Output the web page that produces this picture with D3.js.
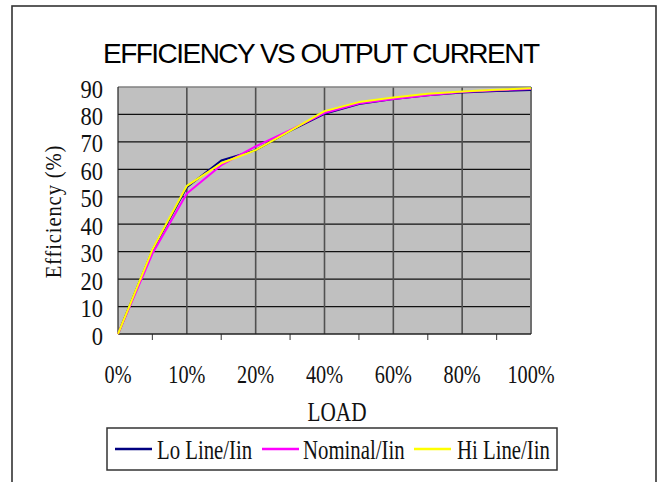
<!DOCTYPE html>
<html>
<head>
<meta charset="utf-8">
<script src="https://cdn.jsdelivr.net/npm/d3@7"></script>
<style>
    body { margin: 0; background: #ffffff; }
    svg { display: block; }
</style>
</head>
<body>
<svg id="chart" width="658" height="482"></svg>
<script>

/*
 *** Chart data
 */
var loadCategories = ["0%", "5%", "10%", "15%", "20%", "30%", "40%", "50%", "60%", "70%", "80%", "90%", "100%"];
var loadLabels = ["0%", "10%", "20%", "40%", "60%", "80%", "100%"];
var efficiencyTicks = [0, 10, 20, 30, 40, 50, 60, 70, 80, 90];

var loLine = [0, 30.5, 53.5, 63.2, 67.0, 74.0, 80.2, 83.8, 85.6, 87.0, 88.0, 88.5, 88.9];
var nominal = [0, 29.3, 51.2, 61.5, 68.4, 74.3, 80.5, 84.0, 85.6, 87.0, 88.2, 88.8, 89.3];
var hiLine = [0, 30.8, 54.0, 62.2, 67.0, 74.0, 81.2, 84.5, 86.2, 87.5, 88.4, 89.0, 89.5];

var seriesNames = ["Lo Line/Iin", "Nominal/Iin", "Hi Line/Iin"];
var seriesColors = ["#000080", "#ff00ff", "#ffff00"];
var seriesValues = [loLine, nominal, hiLine];


var svg = d3.select("#chart");
var plot = {left: 118, right: 531, top: 87, bottom: 334};

var xScale = d3.scalePoint()
    .domain(loadCategories)
    .range([plot.left, plot.right]);

var yScale = d3.scaleLinear()
    .domain([0, 90])
    .range([plot.bottom, plot.top]);


/*
 *** Serif text squeezed sideways, the original font is a narrow one
 */
function narrowText(parent, str, x, y, size, squeeze, anchor){
    return parent.append("text")
        .attr("transform", "translate(" + x + "," + y + ") scale(" + squeeze + ",1)")
        .attr("text-anchor", anchor)
        .attr("font-family", "Liberation Serif, Times New Roman, serif")
        .attr("font-size", size + "px")
        .attr("fill", "#111")
        .text(str);
}


// outer frame
svg.append("rect")
    .attr("x", 12).attr("y", 6)
    .attr("width", 644).attr("height", 500)
    .attr("fill", "#ffffff")
    .attr("stroke", "#333")
    .attr("stroke-width", 1.6);

// title
svg.append("text")
    .attr("x", 103).attr("y", 63)
    .attr("textLength", 437)
    .attr("lengthAdjust", "spacing")
    .attr("font-family", "Liberation Sans, Arial, sans-serif")
    .attr("font-size", "28px")
    .attr("fill", "#000")
    .text("EFFICIENCY VS OUTPUT CURRENT");


/*
 *** Plot area, grid and axes
 */
svg.append("rect")
    .attr("x", plot.left).attr("y", plot.top)
    .attr("width", plot.right - plot.left)
    .attr("height", plot.bottom - plot.top)
    .attr("fill", "#c0c0c0");

svg.append("g")
    .selectAll("line")
    .data(efficiencyTicks.slice(1, -1))
    .enter().append("line")
    .attr("x1", plot.left).attr("x2", plot.right)
    .attr("y1", function(d){ return yScale(d); })
    .attr("y2", function(d){ return yScale(d); })
    .attr("stroke", "#111")
    .attr("stroke-width", 1.2);

// vertical grid on every labelled category
var gridCats = loadCategories.filter(function(d, i){ return i % 2 == 0 && i > 0 && i < loadCategories.length - 1; });
svg.append("g")
    .selectAll("line")
    .data(gridCats)
    .enter().append("line")
    .attr("x1", function(d){ return xScale(d); })
    .attr("x2", function(d){ return xScale(d); })
    .attr("y1", plot.top).attr("y2", plot.bottom)
    .attr("stroke", "#505050")
    .attr("stroke-width", 1.6);

// top and right border
svg.append("line")
    .attr("x1", plot.left).attr("x2", plot.right)
    .attr("y1", plot.top).attr("y2", plot.top)
    .attr("stroke", "#808080").attr("stroke-width", 1.5);
svg.append("line")
    .attr("x1", plot.right).attr("x2", plot.right)
    .attr("y1", plot.top).attr("y2", plot.bottom)
    .attr("stroke", "#707070").attr("stroke-width", 2);

// small ticks between the labels
var tickCats = loadCategories.filter(function(d, i){ return i % 2 == 1; });
svg.append("g")
    .selectAll("line")
    .data(tickCats)
    .enter().append("line")
    .attr("x1", function(d){ return xScale(d); })
    .attr("x2", function(d){ return xScale(d); })
    .attr("y1", plot.bottom).attr("y2", plot.bottom + 6)
    .attr("stroke", "#555")
    .attr("stroke-width", 1.2);

// axis lines
svg.append("line")
    .attr("x1", plot.left).attr("x2", plot.right)
    .attr("y1", plot.bottom).attr("y2", plot.bottom)
    .attr("stroke", "#222").attr("stroke-width", 1.6);
svg.append("line")
    .attr("x1", plot.left).attr("x2", plot.left)
    .attr("y1", plot.top).attr("y2", plot.bottom)
    .attr("stroke", "#222").attr("stroke-width", 1.2);


/*
 *** Tick labels and axis titles
 */
efficiencyTicks.forEach(function(d){
    narrowText(svg, d, 103, yScale(d) + 10.5, 25, 0.9, "end");
});

loadLabels.forEach(function(d){
    narrowText(svg, d, xScale(d), 383, 25, 0.81, "middle");
});

narrowText(svg, "LOAD", 337, 421, 28, 0.76, "middle");

svg.append("text")
    .attr("transform", "translate(61," + ((plot.top + plot.bottom) / 2 + 1) + ") rotate(-90) scale(0.86,1)")
    .attr("text-anchor", "middle")
    .attr("font-family", "Liberation Serif, Times New Roman, serif")
    .attr("font-size", "24px")
    .attr("letter-spacing", "1px")
    .attr("fill", "#111")
    .text("Efficiency (%)");


/*
 *** Series lines
 */
var line = d3.line()
    .x(function(d, i){ return xScale(loadCategories[i]); })
    .y(function(d){ return yScale(d); });

svg.append("g")
    .selectAll("path")
    .data(seriesValues)
    .enter().append("path")
    .attr("d", line)
    .attr("fill", "none")
    .attr("stroke", function(d, i){ return seriesColors[i]; })
    .attr("stroke-width", 2)
    .attr("stroke-linejoin", "round");


/*
 *** Legend
 */
var legend = svg.append("g");
legend.append("rect")
    .attr("x", 107).attr("y", 428)
    .attr("width", 450).attr("height", 42)
    .attr("fill", "#ffffff")
    .attr("stroke", "#333")
    .attr("stroke-width", 1.5);

var legendItems = [
    {swatch: 115, text: 157},
    {swatch: 262, text: 303},
    {swatch: 414, text: 457}
];

legendItems.forEach(function(item, i){
    legend.append("line")
        .attr("x1", item.swatch).attr("x2", item.swatch + 37)
        .attr("y1", 449).attr("y2", 449)
        .attr("stroke", seriesColors[i])
        .attr("stroke-width", 2.5);
    narrowText(legend, seriesNames[i], item.text, 459, 27, 0.77, "start");
});

</script>
</body>
</html>
